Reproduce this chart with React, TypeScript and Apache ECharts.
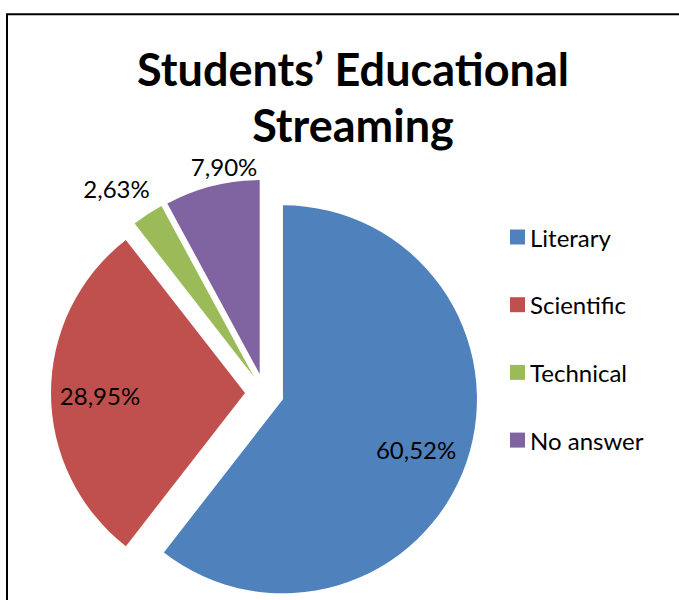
import React, { useEffect, useRef } from "react";
import * as echarts from "echarts";

const categories = ["Literary", "Scientific", "Technical", "No answer"];
const values = [60.52, 28.95, 2.63, 7.9];
const labelTexts = ["60,52%", "28,95%", "2,63%", "7,90%"];
const colors = ["#4F81BD", "#C0504D", "#9BBB59", "#8064A2"];
const titleText = "Students’ Educational\nStreaming";

export default function App() {
  const ref = useRef<HTMLDivElement>(null);
  useEffect(() => {
    if (!ref.current) return;
    const chart = echarts.init(ref.current, null, { renderer: "svg" });
    const CX = 264.5;
    const CY = 393;
    const R = 194;
    const OFF = 19.5;
    const font = "Lato, 'Open Sans', sans-serif";
    const pieData = categories.map((name, i) => ({
      name,
      value: values[i],
      selected: true,
      itemStyle: { color: colors[i] },
    }));
    const labelData = categories.map((name, i) => ({
      name,
      value: values[i],
      selected: true,
      itemStyle: { color: "rgba(0,0,0,0)" },
    }));
    const common = {
      type: "pie",
      center: [CX, CY],
      startAngle: 90,
      clockwise: true,
      selectedMode: "multiple",
      selectedOffset: OFF,
      avoidLabelOverlap: false,
      silent: true,
      emphasis: { disabled: true },
      select: { disabled: false },
    };
    chart.setOption({
      animation: false,
      backgroundColor: "#fff",
      title: {
        text: titleText,
        left: 348,
        textAlign: "center",
        top: 36,
        textStyle: {
          fontFamily: font,
          fontWeight: "bold",
          fontSize: 45,
          lineHeight: 56,
          color: "#000",
        },
      },
      legend: {
        orient: "vertical",
        left: 505,
        top: 220,
        itemWidth: 15,
        itemHeight: 15,
        itemGap: 43.7,
        icon: "rect",
        selectedMode: false,
        data: categories,
        textStyle: {
          fontFamily: font,
          fontSize: 24,
          lineHeight: 24,
          color: "#000",
        },
      },
      graphic: [
        {
          type: "rect",
          z: -10,
          shape: { x: 7, y: 14.3, width: 900, height: 900 },
          style: { fill: "none", stroke: "#000", lineWidth: 2 },
        },
      ],
      series: [
        {
          ...common,
          name: "pie",
          radius: R,
          data: pieData,
          label: { show: false },
          labelLine: { show: false },
        },
        {
          ...common,
          name: "labels",
          radius: [90, R],
          data: labelData,
          label: {
            show: true,
            position: "inside",
            formatter: (p: any) => labelTexts[p.dataIndex],
            fontFamily: font,
            fontSize: 24,
            color: "#000",
          },
          labelLine: { show: false },
          labelLayout: (p: any) => {
            if (p.dataIndex === 0) return { dx: -4, dy: 3 };
            if (p.dataIndex === 1) return { dy: 2 };
            if (p.dataIndex === 2) return { dx: -58, dy: -66.5 };
            if (p.dataIndex === 3) return { dy: -67.5 };
            return {};
          },
        },
      ],
    });
    return () => chart.dispose();
  }, []);
  return (
    <div
      ref={ref}
      style={{ position: "absolute", left: 0, top: 0, width: 679, height: 600 }}
    />
  );
}
